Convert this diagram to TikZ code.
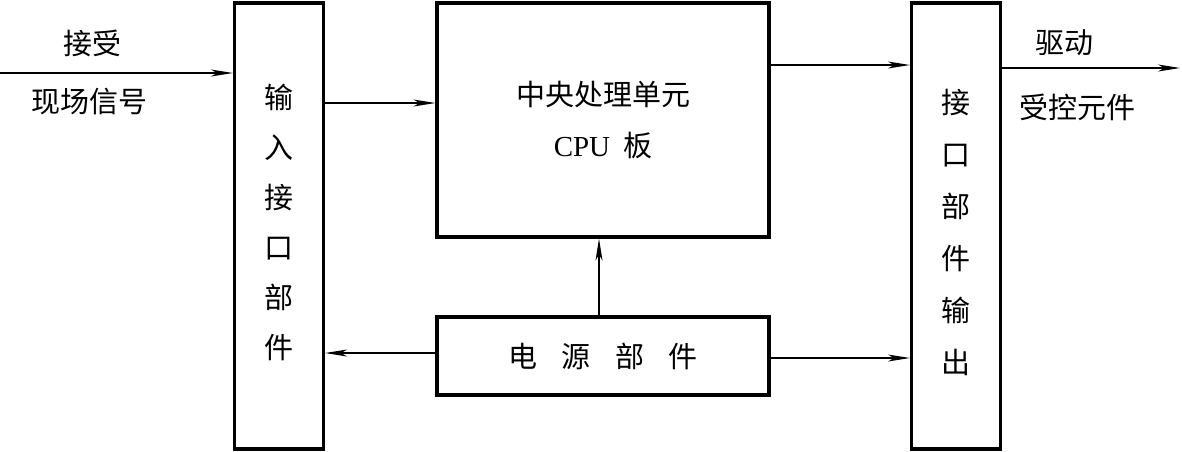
\documentclass[tikz,border=0pt]{standalone}
\usepackage{fontspec}
\setmainfont{Liberation Serif}
\newfontfamily\cjk{Noto Sans CJK SC}
\usetikzlibrary{arrows.meta, positioning}

\begin{document}
\begin{tikzpicture}[
		x=1pt, y=-1pt,
		>={Stealth[length=22pt, width=7pt, inset=6pt]},
		box/.style={draw, line width=3.2pt, inner sep=0pt, align=center,
			font=\cjk\fontsize{29}{51}\selectfont},
		tallbox/.style={box, minimum width=89pt, minimum height=446pt},
		widebox/.style={box, minimum width=332pt},
		txt/.style={font=\cjk\fontsize{29}{50}\selectfont, align=center, inner sep=0pt},
		arr/.style={->, line width=1.2pt},
	]
	\useasboundingbox (0,0) rectangle (1182,451);

	% Boxes
	\node[tallbox] (inbox) at (279,226) {};
	\node[widebox, minimum height=234pt] (cpu) at (603,120) {中央处理单元\\{\rmfamily CPU}\hspace{0.45em}板};
	\node[widebox, minimum height=78pt] (power) at (603,356) {电\hspace{0.85em}源\hspace{0.85em}部\hspace{0.85em}件};
	\node[tallbox] (outbox) at (956,226) {};

	% Vertical texts
	\node[txt] (intxt) at (279,222) {输\\入\\接\\口\\部\\件};
	\node[txt, font=\cjk\fontsize{29}{52}\selectfont] (outtxt) at (956,232) {接\\口\\部\\件\\输\\出};

	% Side labels
	\coordinate (src) at (0,73);
	\coordinate (drv) at (1180,68);
	\node[txt] (recv) at (92,43) {接受};
	\node[txt] (field) at (89,102) {现场信号};
	\node[txt] (drive) at (1064,43) {驱动};
	\node[txt] (load) at (1077,107) {受控元件};

	% Arrows
	\draw[arr] (src) -- (src -| inbox.west);
	\draw[arr] ([yshift=17pt]cpu.west -| inbox.east) -- ([yshift=17pt]cpu.west);
	\draw[arr] ([yshift=55pt]cpu.east) -- ([yshift=55pt]cpu.east -| outbox.west);
	\draw[arr] (drv -| outbox.east) -- (drv);
	\draw[arr] ([xshift=-4pt]power.north) -- ([xshift=-4pt]cpu.south);
	\draw[arr] ([yshift=3pt]power.west) -- ([yshift=3pt]power.west -| inbox.east);
	\draw[arr] ([yshift=-2pt]power.east) -- ([yshift=-2pt]power.east -| outbox.west);
\end{tikzpicture}
\end{document}
